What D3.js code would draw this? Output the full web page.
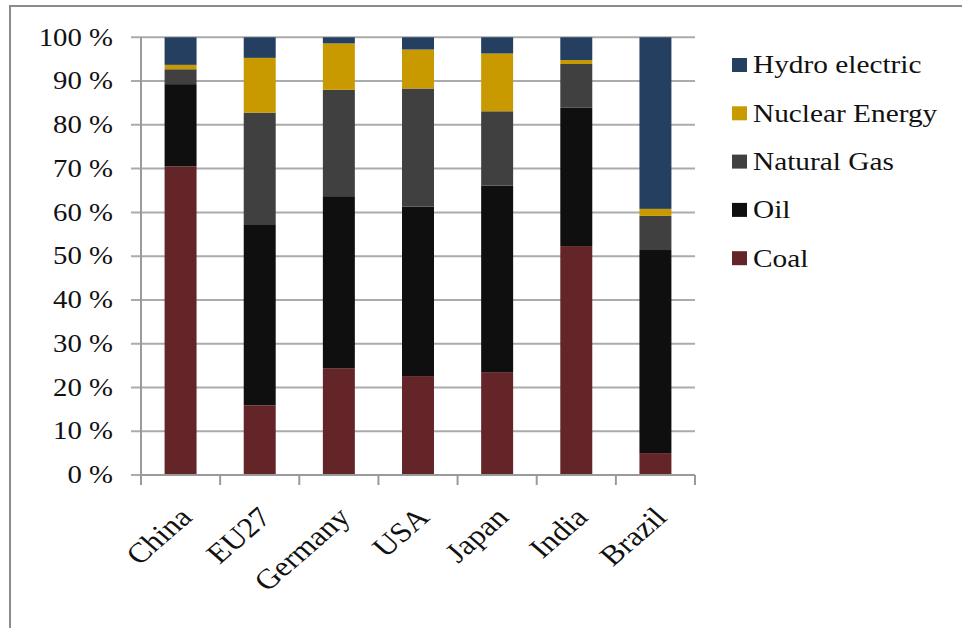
<!DOCTYPE html>
<html>
<head>
<meta charset="utf-8">
<script src="https://cdn.jsdelivr.net/npm/d3@7"></script>
<style>
  html, body { margin: 0; padding: 0; background: #fff; }
  svg { display: block; }
  text { font-family: "Liberation Serif", "Times New Roman", serif; fill: #111; }
</style>
</head>
<body>
<svg id="chart" width="962" height="628"></svg>
<script>
// Share of primary energy sources by country (%)
const countries = ["China", "EU27", "Germany", "USA", "Japan", "India", "Brazil"];
const coal    = [70.5, 15.9, 24.4, 22.6, 23.5, 52.3,  5.0];
const oil     = [18.8, 41.4, 39.3, 38.7, 42.6, 31.6, 46.4];
const gas     = [ 3.4, 25.5, 24.3, 27.0, 17.0, 10.0,  7.8];
const nuclear = [ 1.0, 12.5, 10.6,  8.9, 13.2,  0.9,  1.6];
const hydro   = [ 6.3,  4.7,  1.4,  2.8,  3.7,  5.2, 39.2];
const yTicks  = [0, 10, 20, 30, 40, 50, 60, 70, 80, 90, 100];

const seriesKeys   = ["Coal", "Oil", "Natural Gas", "Nuclear Energy", "Hydro electric"];
const seriesValues = [coal, oil, gas, nuclear, hydro];
const seriesColors = ["#632527", "#0f0f0f", "#404040", "#c89a00", "#253f61"];

const rows = countries.map((c, i) => {
  const r = { country: c };
  seriesKeys.forEach((k, j) => r[k] = seriesValues[j][i]);
  return r;
});

const svg = d3.select("#chart");
const sx = 1.15; // horizontal text stretch

// outer frame
svg.append("rect")
  .attr("x", 10).attr("y", 6).attr("width", 1000).attr("height", 700)
  .attr("fill", "none").attr("stroke", "#8c8c8c").attr("stroke-width", 2);

const plot = { left: 141, right: 695, top: 37.3, bottom: 475 };

const x = d3.scaleBand().domain(countries)
  .range([plot.left, plot.right]).paddingInner(0.596).paddingOuter(0.298);
const xEdge = d3.scaleBand().domain(countries).range([plot.left, plot.right]).padding(0);
const y = d3.scaleLinear().domain([0, 100]).range([plot.bottom, plot.top]);
const color = d3.scaleOrdinal().domain(seriesKeys).range(seriesColors);

// gridlines with left ticks
svg.append("g").selectAll("line").data(yTicks).join("line")
  .attr("x1", plot.left - 10).attr("x2", plot.right)
  .attr("y1", d => y(d)).attr("y2", d => y(d))
  .attr("stroke", "#ababab").attr("stroke-width", 2);

// y labels
const yl = svg.append("g").attr("transform", `scale(${sx},1)`);
yl.selectAll("text").data(yTicks).join("text")
  .attr("x", 113 / sx).attr("y", d => y(d))
  .attr("dy", "0.33em")
  .attr("text-anchor", "end")
  .attr("font-size", 25)
  .text(d => d + " %");

// stacked bars
const stacked = d3.stack().keys(seriesKeys)(rows);
svg.append("g").selectAll("g").data(stacked).join("g")
  .attr("fill", d => color(d.key))
  .selectAll("rect").data(d => d).join("rect")
  .attr("x", d => x(d.data.country))
  .attr("width", x.bandwidth())
  .attr("y", d => y(d[1]))
  .attr("height", d => y(d[0]) - y(d[1]));

// y axis line
svg.append("line")
  .attr("x1", plot.left).attr("x2", plot.left)
  .attr("y1", plot.top).attr("y2", plot.bottom)
  .attr("stroke", "#9a9a9a").attr("stroke-width", 2);

// x axis line and ticks at category boundaries
svg.append("line")
  .attr("x1", plot.left).attr("x2", plot.right)
  .attr("y1", plot.bottom).attr("y2", plot.bottom)
  .attr("stroke", "#9a9a9a").attr("stroke-width", 2);
const edges = countries.map(c => xEdge(c)).concat([plot.right]);
svg.append("g").selectAll("line").data(edges).join("line")
  .attr("x1", d => d).attr("x2", d => d)
  .attr("y1", plot.bottom).attr("y2", plot.bottom + 10)
  .attr("stroke", "#9a9a9a").attr("stroke-width", 2);

// rotated category labels
const xl = svg.append("g").attr("transform", `scale(${sx},1)`);
xl.selectAll("text").data(countries).join("text")
  .attr("transform", d => `translate(${(x(d) + x.bandwidth() / 2 + 5) / sx},${plot.bottom + 37}) rotate(-45)`)
  .attr("text-anchor", "end")
  .attr("dy", "0.35em")
  .attr("font-size", 28)
  .text(d => d);

// legend
const legendOrder = seriesKeys.slice().reverse();
const lg = svg.append("g");
legendOrder.forEach((k, i) => {
  const cy = 65 + i * 48.3;
  lg.append("rect")
    .attr("x", 732).attr("y", cy - 7).attr("width", 15).attr("height", 14)
    .attr("fill", color(k));
  lg.append("g").attr("transform", `scale(${sx},1)`)
    .append("text")
    .attr("x", 753 / sx).attr("y", cy)
    .attr("dy", "0.33em")
    .attr("font-size", 25.5)
    .text(k);
});
</script>
</body>
</html>
